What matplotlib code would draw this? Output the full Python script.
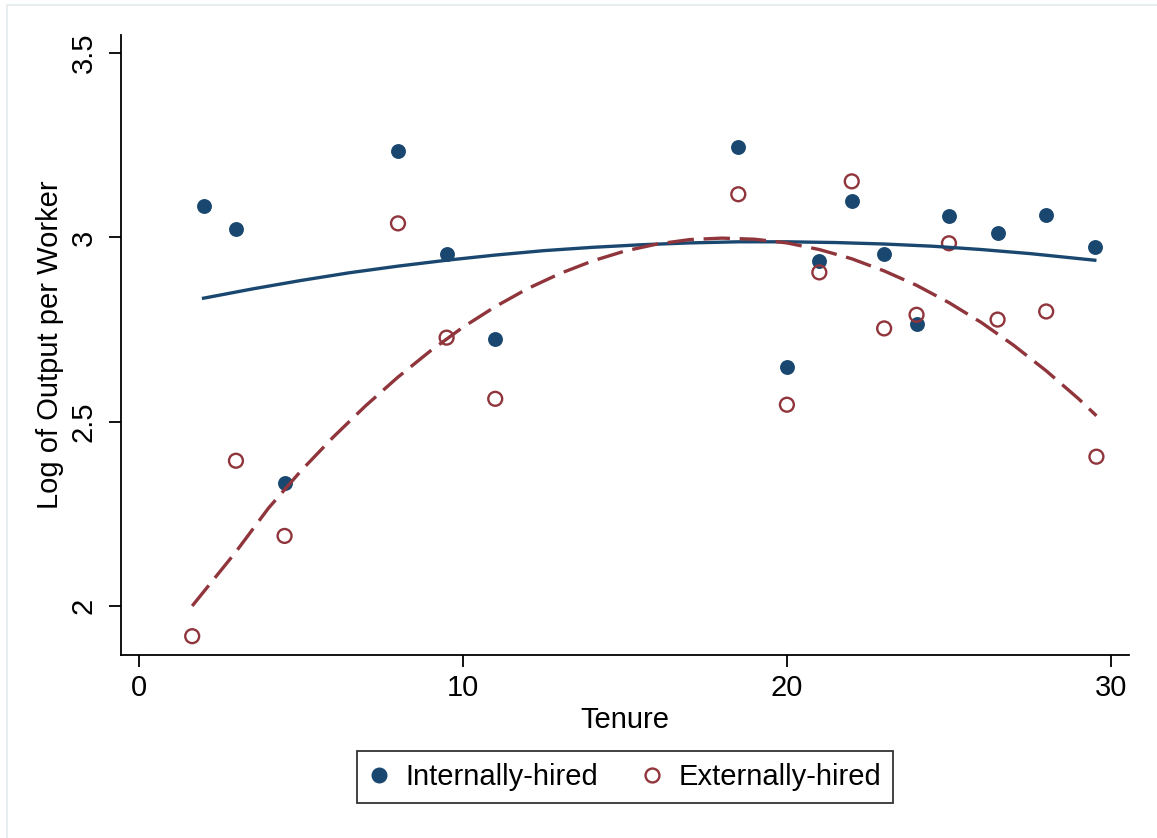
import numpy as np
import matplotlib
matplotlib.use("Agg")
import matplotlib.pyplot as plt
from matplotlib.lines import Line2D

plt.rcParams['font.family'] = ['Liberation Sans', 'DejaVu Sans']
plt.rcParams['lines.scale_dashes'] = False

# tenure / log output per worker
tenure_int = [2, 3, 4.5, 8, 9.5, 11, 18.5, 20, 21, 22, 23, 24, 25, 26.5, 28, 29.5]
logy_int = [3.084, 3.024, 2.334, 3.234, 2.954, 2.723, 3.245, 2.647, 2.937,
            3.098, 2.954, 2.766, 3.057, 3.011, 3.062, 2.973]

tenure_ext = [1.65, 3, 4.5, 8, 9.5, 11, 18.5, 20, 21, 22, 23, 24, 25, 26.5, 28, 29.55]
logy_ext = [1.918, 2.394, 2.19, 3.038, 2.728, 2.562, 3.117, 2.546, 2.905,
            3.152, 2.753, 2.79, 2.984, 2.777, 2.799, 2.405]

# quadratic fit lines (fit on the underlying data)
fit_x_int = [2, 3.5, 5, 6.5, 8, 9.5, 11, 12.5, 14, 15.5, 17, 18.5, 20, 21.5,
             23, 24.5, 26, 27.5, 29.5]
fit_y_int = [2.835, 2.860, 2.883, 2.904, 2.922, 2.938, 2.952, 2.964, 2.973, 2.980,
             2.985, 2.988, 2.988, 2.986, 2.982, 2.976, 2.967, 2.956, 2.938]

fit_x_ext = [1.65, 3, 4, 5, 6, 7, 8, 9, 10, 11, 12, 13, 14, 15, 16, 17, 18, 19, 20,
             21, 22, 23, 24, 25, 26, 27, 28, 29, 29.55]
fit_y_ext = [2.000, 2.147, 2.265, 2.366, 2.458, 2.543, 2.621, 2.692, 2.756, 2.812,
             2.861, 2.902, 2.936, 2.963, 2.982, 2.994, 2.998, 2.995, 2.985,
             2.967, 2.942, 2.909, 2.870, 2.823, 2.769, 2.707, 2.638, 2.562, 2.516]

navy = '#1a476f'
maroon = '#90353b'

fig = plt.figure(figsize=(11.57, 8.38), dpi=100)
ax = fig.add_axes([0.1046, 0.2184, 0.9758 - 0.1046, 0.9582 - 0.2184])

ax.scatter(tenure_int, logy_int, s=115, color=navy, zorder=3, linewidths=0)
ax.scatter(tenure_ext, logy_ext, s=100, facecolors='none', edgecolors=maroon,
           linewidths=1.7, zorder=3)

ax.plot(fit_x_int, fit_y_int, color=navy, lw=2.4, zorder=4, solid_joinstyle='round')
ln, = ax.plot(fit_x_ext, fit_y_ext, color=maroon, lw=2.4, zorder=4)
ln.set_dashes((19, 7))

ax.set_xlim(-0.546, 30.555)
ax.set_ylim(1.867, 3.549)
ax.set_xticks([0, 10, 20, 30])
ax.set_yticks([2, 2.5, 3, 3.5])
ax.set_yticklabels(['2', '2.5', '3', '3.5'], rotation=90, va='center')
ax.tick_params(direction='out', length=8.6, width=1.3, labelsize=21)
ax.tick_params(axis='y', pad=8)
ax.tick_params(axis='x', pad=5)
for s in ['top', 'right']:
    ax.spines[s].set_visible(False)
for s in ['left', 'bottom']:
    ax.spines[s].set_linewidth(1.3)

ax.set_xlabel('Tenure', fontsize=21, labelpad=3)
ax.set_ylabel('Log of Output per Worker', fontsize=21, labelpad=4)

handles = [Line2D([], [], ls='none', marker='o', ms=10.5, mfc=navy, mec=navy),
           Line2D([], [], ls='none', marker='o', ms=10, mfc='none', mec=maroon, mew=1.7)]
leg = fig.legend(handles, ['Internally-hired', 'Externally-hired'], ncol=2,
                 loc='center', bbox_to_anchor=(625 / 1157, 1 - 777 / 838),
                 fontsize=21, frameon=True, fancybox=False, edgecolor='black',
                 handletextpad=0.55, columnspacing=1.5, borderpad=0.4,
                 handlelength=0.7, borderaxespad=0)
leg.get_frame().set_linewidth(1.3)

# faint outer border of the exported graph
fig.add_artist(Line2D([7 / 1157, 1], [1 - 5 / 838, 1 - 5 / 838], color='#e8edf0', lw=1.5))
fig.add_artist(Line2D([7 / 1157, 7 / 1157], [0, 1 - 5 / 838], color='#e8edf0', lw=1.5))

fig.savefig('out.png', dpi=100)
